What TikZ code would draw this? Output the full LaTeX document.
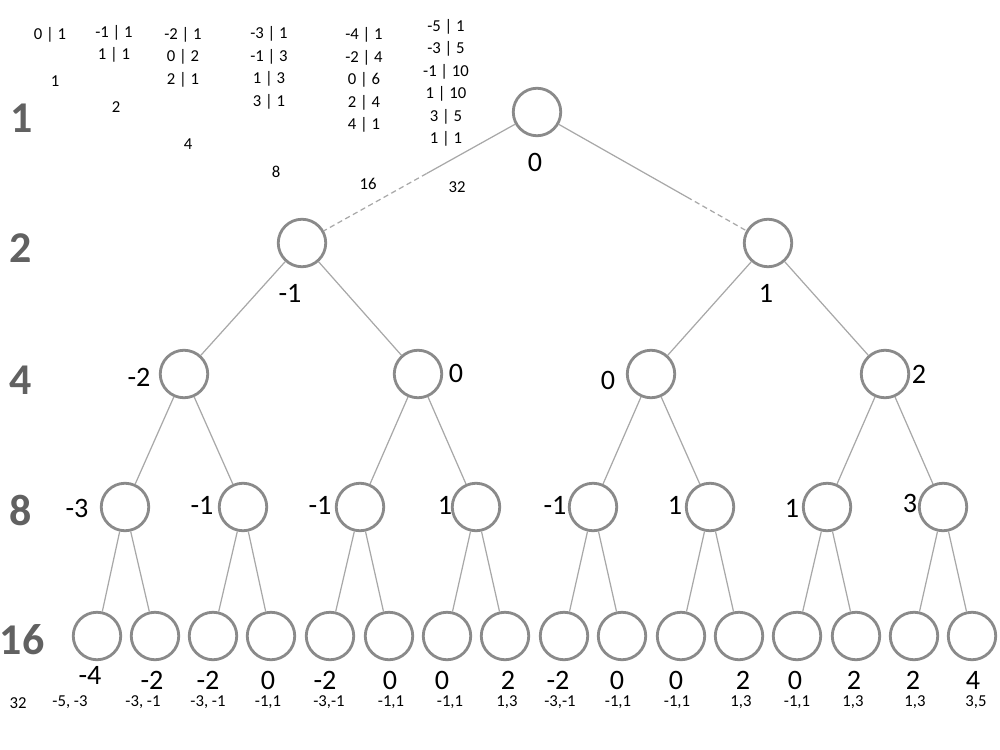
\documentclass[tikz,border=0pt]{standalone}
\usepackage{fontspec}
\setmainfont{Carlito}
\usetikzlibrary{positioning,calc}
\definecolor{rim}{HTML}{8A8A8A}
\definecolor{wire}{HTML}{A8A8A8}

\begin{document}
\begin{tikzpicture}[x=0.02cm, y=-0.02cm,
  vert/.style={circle, draw=rim, line width=1.6pt, fill=white, minimum size=0.95cm, inner sep=0pt},
  edge_/.style={wire, line width=0.7pt},
  val/.style={font=\fontsize{16}{18}\selectfont},
  pair/.style={font=\fontsize{9.5}{10}\selectfont},
  tab/.style={font=\fontsize{9.5}{12.8}\selectfont, align=center},
  lvl/.style={font=\fontsize{25}{28}\selectfont\bfseries, text=black!62}
]
  \useasboundingbox (0,0) rectangle (1000,750);
  % level counts on the left
  \node[lvl] (c1)  at (22,118) {1};
  \node[lvl] (c2)  at (21,248) {2};
  \node[lvl] (c4)  at (21,380) {4};
  \node[lvl] (c8)  at (21,510) {8};
  \node[lvl] (c16) at (22,640) {16};
  % distribution table
  \node[tab] (ta) at (50,35)  {0 | 1};
  \node[tab] (tb) at (114,44) {-1 | 1\\1 | 1};
  \node[tab] (tc) at (183,57) {-2 | 1\\0 | 2\\2 | 1};
  \node[tab] (td) at (269,68) {-3 | 1\\-1 | 3\\1 | 3\\3 | 1};
  \node[tab] (te) at (364,80) {-4 | 1\\-2 | 4\\0 | 6\\2 | 4\\4 | 1};
  \node[tab] (tf) at (446,83) {-5 | 1\\-3 | 5\\-1 | 10\\1 | 10\\3 | 5\\1 | 1};
  \node[tab] (sa) at (55,81)   {1};
  \node[tab] (sb) at (116,107) {2};
  \node[tab] (sc) at (188,144) {4};
  \node[tab] (sd) at (276,172) {8};
  \node[tab] (se) at (368,184) {16};
  \node[tab] (sf) at (457,187) {32};
  \node[tab] (sg) at (18,703)  {32};
  % tree
  \node[vert] (n0) at (537,112) {};
  \node[vert] (l1a) at (302,243) {};
  \node[vert] (l1b) at (768,243) {};
  \node[vert] (l2a) at (184,374) {};
  \node[vert] (l2b) at (418,374) {};
  \node[vert] (l2c) at (651,374) {};
  \node[vert] (l2d) at (885,374) {};
  \node[vert] (l3a) at (125,507) {};
  \node[vert] (l3b) at (243,507) {};
  \node[vert] (l3c) at (360,507) {};
  \node[vert] (l3d) at (476,507) {};
  \node[vert] (l3e) at (593,507) {};
  \node[vert] (l3f) at (710,507) {};
  \node[vert] (l3g) at (827,507) {};
  \node[vert] (l3h) at (943,507) {};
  \node[vert] (l4a) at (97,636) {};
  \node[vert] (l4b) at (155,636) {};
  \node[vert] (l4c) at (213,636) {};
  \node[vert] (l4d) at (271,636) {};
  \node[vert] (l4e) at (330,636) {};
  \node[vert] (l4f) at (389,636) {};
  \node[vert] (l4g) at (447,636) {};
  \node[vert] (l4h) at (505,636) {};
  \node[vert] (l4i) at (564,636) {};
  \node[vert] (l4j) at (622,636) {};
  \node[vert] (l4k) at (681,636) {};
  \node[vert] (l4l) at (739,636) {};
  \node[vert] (l4m) at (797,636) {};
  \node[vert] (l4n) at (856,636) {};
  \node[vert] (l4o) at (914,636) {};
  \node[vert] (l4p) at (972,636) {};
  % root edges fade into dashes
  \coordinate (ma) at ($(n0)!0.47!(l1a)$);
  \coordinate (mb) at ($(n0)!0.65!(l1b)$);
  \draw[edge_] (n0) -- (ma);
  \draw[edge_, densely dashed] (ma) -- (l1a);
  \draw[edge_] (n0) -- (mb);
  \draw[edge_, densely dashed] (mb) -- (l1b);
  \draw[edge_] (l1a) -- (l2a);
  \draw[edge_] (l1a) -- (l2b);
  \draw[edge_] (l1b) -- (l2c);
  \draw[edge_] (l1b) -- (l2d);
  \draw[edge_] (l2a) -- (l3a);
  \draw[edge_] (l2a) -- (l3b);
  \draw[edge_] (l2b) -- (l3c);
  \draw[edge_] (l2b) -- (l3d);
  \draw[edge_] (l2c) -- (l3e);
  \draw[edge_] (l2c) -- (l3f);
  \draw[edge_] (l2d) -- (l3g);
  \draw[edge_] (l2d) -- (l3h);
  \draw[edge_] (l3a) -- (l4a);
  \draw[edge_] (l3a) -- (l4b);
  \draw[edge_] (l3b) -- (l4c);
  \draw[edge_] (l3b) -- (l4d);
  \draw[edge_] (l3c) -- (l4e);
  \draw[edge_] (l3c) -- (l4f);
  \draw[edge_] (l3d) -- (l4g);
  \draw[edge_] (l3d) -- (l4h);
  \draw[edge_] (l3e) -- (l4i);
  \draw[edge_] (l3e) -- (l4j);
  \draw[edge_] (l3f) -- (l4k);
  \draw[edge_] (l3f) -- (l4l);
  \draw[edge_] (l3g) -- (l4m);
  \draw[edge_] (l3g) -- (l4n);
  \draw[edge_] (l3h) -- (l4o);
  \draw[edge_] (l3h) -- (l4p);
  % sums at the nodes
  \node[val] (v0)  at (535,162) {0};
  \node[val] (v1a) at (290,293) {-1};
  \node[val] (v1b) at (766,293) {1};
  \node[val] (v2a) at (139,377) {-2};
  \node[val] (v2b) at (456,373) {0};
  \node[val] (v2c) at (608,380) {0};
  \node[val] (v2d) at (919,374) {2};
  \node[val] (v3a) at (77,508)  {-3};
  \node[val] (v3b) at (202,505) {-1};
  \node[val] (v3c) at (320,505) {-1};
  \node[val] (v3d) at (445,505) {1};
  \node[val] (v3e) at (555,505) {-1};
  \node[val] (v3f) at (675,505) {1};
  \node[val] (v3g) at (792,508) {1};
  \node[val] (v3h) at (910,503) {3};
  \node[val] (v4a) at (90,675)  {-4};
  \node[val] (v4b) at (152,680) {-2};
  \node[val] (v4c) at (208,680) {-2};
  \node[val] (v4d) at (268,680) {0};
  \node[val] (v4e) at (325,680) {-2};
  \node[val] (v4f) at (390,680) {0};
  \node[val] (v4g) at (442,680) {0};
  \node[val] (v4h) at (508,680) {2};
  \node[val] (v4i) at (558,680) {-2};
  \node[val] (v4j) at (617,680) {0};
  \node[val] (v4k) at (676,680) {0};
  \node[val] (v4l) at (743,680) {2};
  \node[val] (v4m) at (795,680) {0};
  \node[val] (v4n) at (854,680) {2};
  \node[val] (v4o) at (913,680) {2};
  \node[val] (v4p) at (973,680) {4};
  % next step pairs
  \node[pair] (p4a) at (70,702)  {-5, -3};
  \node[pair] (p4b) at (143,702) {-3, -1};
  \node[pair] (p4c) at (208,702) {-3, -1};
  \node[pair] (p4d) at (268,702) {-1,1};
  \node[pair] (p4e) at (329,702) {-3,-1};
  \node[pair] (p4f) at (391,702) {-1,1};
  \node[pair] (p4g) at (450,702) {-1,1};
  \node[pair] (p4h) at (507,702) {1,3};
  \node[pair] (p4i) at (560,702) {-3,-1};
  \node[pair] (p4j) at (618,702) {-1,1};
  \node[pair] (p4k) at (677,702) {-1,1};
  \node[pair] (p4l) at (741,702) {1,3};
  \node[pair] (p4m) at (797,702) {-1,1};
  \node[pair] (p4n) at (853,702) {1,3};
  \node[pair] (p4o) at (915,702) {1,3};
  \node[pair] (p4p) at (976,702) {3,5};
\end{tikzpicture}
\end{document}
